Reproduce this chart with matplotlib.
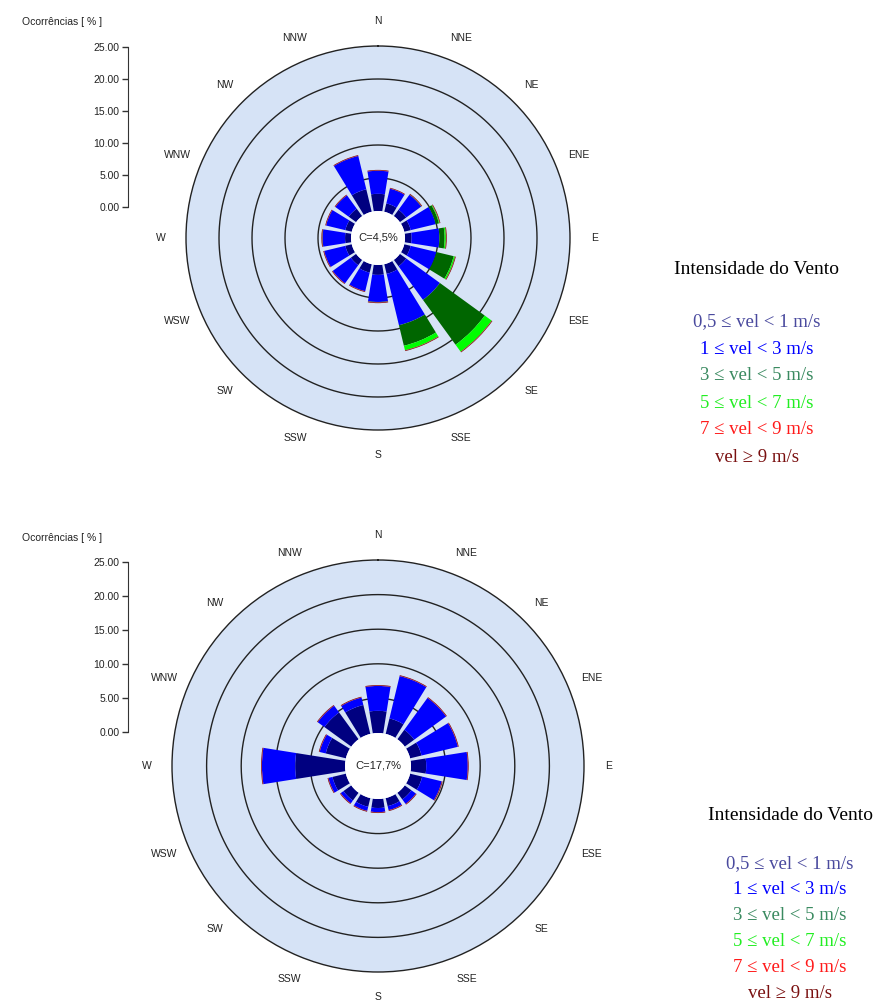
import numpy as np
import matplotlib.pyplot as plt

# direções (sentido horário a partir do Norte)
dirs = ['N', 'NNE', 'NE', 'ENE', 'E', 'ESE', 'SE', 'SSE',
        'S', 'SSW', 'SW', 'WSW', 'W', 'WNW', 'NW', 'NNW']

# rosa superior - ocorrências [%] por classe de velocidade
top_v05 = [2.6, 1.3, 1.2, 1.0, 1.0, 1.0, 1.2, 1.5, 1.5, 1.3, 1.0, 1.0, 0.9, 1.0, 1.4, 3.5]
top_v1 = [3.5, 2.3, 2.8, 3.9, 4.2, 4.0, 6.3, 8.0, 4.1, 2.9, 3.4, 3.3, 3.4, 3.0, 2.5, 5.2]
top_v3 = [0.0, 0.0, 0.05, 0.5, 0.8, 2.7, 8.4, 3.2, 0.05, 0.0, 0.0, 0.0, 0.05, 0.0, 0.0, 0.0]
top_v5 = [0.0, 0.0, 0.0, 0.1, 0.2, 0.2, 1.3, 0.7, 0.0, 0.0, 0.0, 0.0, 0.0, 0.0, 0.0, 0.0]
top_v7 = [0.03] * 16
top_v9 = [0.1] * 16
top_calm = '4,5'

# rosa inferior
bot_v05 = [3.2, 2.3, 1.7, 1.7, 2.2, 1.8, 1.2, 1.2, 1.3, 1.3, 1.4, 2.0, 7.2, 3.0, 4.8, 4.3]
bot_v1 = [3.6, 6.3, 5.7, 5.4, 6.0, 2.9, 0.8, 0.6, 0.6, 0.6, 0.5, 0.6, 4.8, 0.9, 1.2, 1.1]
bot_v3 = [0.0] * 16
bot_v5 = [0.0] * 16
bot_v7 = [0.03] * 16
bot_v9 = [0.1] * 16
bot_calm = '17,7'

scale_ticks = [0, 5, 10, 15, 20, 25]

colors = ['#000080', '#0000ff', '#006600', '#00ff00', '#ff0000', '#800000']
leg_labels = ['0,5 ≤ vel < 1 m/s', '1 ≤ vel < 3 m/s', '3 ≤ vel < 5 m/s',
              '5 ≤ vel < 7 m/s', '7 ≤ vel < 9 m/s', 'vel ≥ 9 m/s']
leg_colors = ['#4a4a9e', '#0000ff', '#3a8a60', '#22ee22', '#ff1a1a', '#7a1010']

plt.rcParams['lines.solid_capstyle'] = 'butt'

W, H = 889, 1007
fig = plt.figure(figsize=(W / 100, H / 100), dpi=100)
sans = ['Liberation Sans', 'DejaVu Sans']
serif = ['Liberation Serif', 'DejaVu Serif']


def rose(cx, cy, outer, calm_px, series, calm):
    ppp = (outer - calm_px) / 25.0  # pixels por %
    off = calm_px / ppp
    ax = fig.add_axes([(cx - outer) / W, 1 - (cy + outer) / H, 2 * outer / W, 2 * outer / H],
                      projection='polar')
    ax.set_theta_zero_location('N')
    ax.set_theta_direction(-1)
    ax.set_facecolor('#d6e3f6')
    ax.set_ylim(0, off + 25)
    ax.set_yticks([])
    ax.set_xticks([])
    ax.grid(False)
    # anéis de 5 %
    circ = np.linspace(0, 2 * np.pi, 721)
    for v in (5, 10, 15, 20):
        ax.plot(circ, np.full_like(circ, off + v), color='#222222', lw=1.0, zorder=1)
    ax.spines['polar'].set_color('#222222')
    ax.spines['polar'].set_linewidth(1.0)
    theta = np.deg2rad(np.arange(16) * 22.5)
    bottom = np.full(16, off)
    for vals, c in zip(series, colors):
        vals = np.array(vals)
        ax.bar(theta, vals, width=np.deg2rad(18), bottom=bottom, color=c,
               edgecolor='none', zorder=3)
        bottom = bottom + vals
    ax.bar(0, off, width=2 * np.pi, bottom=0, color='white', edgecolor='none', zorder=4)
    ax.text(0, 0, 'C=' + calm + '%', ha='center', va='center', fontsize=8,
            family=sans, color='#222222', zorder=5)
    rl = off + 25 + 25 / ppp
    for t, d in zip(theta, dirs):
        ax.text(t, rl, d, ha='center', va='center', fontsize=7.5, family=sans,
                color='#222222', clip_on=False)
    return ax


def scale(x, ytop, ybot, title_y):
    ax = fig.add_axes([x / W, 1 - ybot / H, 0.0001, (ybot - ytop) / H])
    ax.set_ylim(0, 25)
    ax.set_yticks(scale_ticks)
    ax.set_yticklabels(['%.2f' % v for v in scale_ticks], fontsize=7.5, family=sans,
                       color='#222222')
    ax.set_xticks([])
    for s in ['top', 'right', 'bottom']:
        ax.spines[s].set_visible(False)
    ax.spines['left'].set_color('#333333')
    ax.tick_params(axis='y', direction='out', length=4, width=1, color='#333333', pad=2)
    fig.text(62 / W, 1 - title_y / H, 'Ocorrências [ % ]', ha='center', va='center',
             fontsize=7.5, family=sans, color='#222222')


def legend(cx, ty, y0, dy):
    fig.text(cx / W, 1 - ty / H, 'Intensidade do Vento', ha='center', va='center',
             fontsize=14, family=serif, color='black')
    for i, (lab, c) in enumerate(zip(leg_labels, leg_colors)):
        fig.text(cx / W, 1 - (y0 + i * dy) / H, lab, ha='center', va='center',
                 fontsize=13.5, family=serif, color=c)


rose(378, 238, 192, 27, [top_v05, top_v1, top_v3, top_v5, top_v7, top_v9], top_calm)
rose(378, 766, 206, 33, [bot_v05, bot_v1, bot_v3, bot_v5, bot_v7, bot_v9], bot_calm)
scale(128, 47, 207, 22)
scale(128, 562, 732, 538)
legend(757, 270, 322, 27)
legend(790, 815, 864, 26)

fig.savefig('out.png', dpi=100)
